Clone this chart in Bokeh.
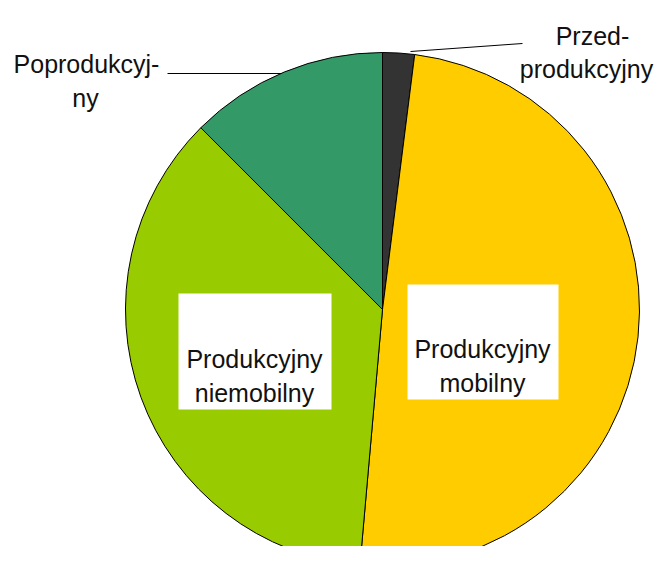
import math
from bokeh.plotting import figure
from bokeh.models import Range1d, ColumnDataSource
from bokeh.core.properties import value
from bokeh.embed import file_html
from bokeh.resources import INLINE

# ---- data ----
categories = ["Przedprodukcyjny", "Produkcyjny mobilny", "Produkcyjny niemobilny", "Poprodukcyjny"]
shares = [2.0, 49.4, 36.1, 12.5]
colors = ["#333333", "#FFCC00", "#99CC00", "#339966"]

# ---- layout (reference pixel coordinates) ----
W, H = 672, 562
CX, CY, R = 382, 309, 257
FONT = "Liberation Sans"
FS = "25px"

def Y(y):
    return H - y

p = figure(width=656, height=546, output_backend="svg", toolbar_location=None,
           x_range=Range1d(0, 656), y_range=Range1d(H - 546, H),
           min_border=0, outline_line_color=None, background_fill_color="white")
p.axis.visible = False
p.grid.visible = False

total = sum(shares)
starts, ends = [], []
cum = 0.0
for s in shares:
    starts.append(math.pi / 2 - 2 * math.pi * cum / total)
    cum += s
    ends.append(math.pi / 2 - 2 * math.pi * cum / total)

src = ColumnDataSource(dict(cat=categories, start=starts, end=ends, color=colors))
p.wedge(x=CX, y=Y(CY), radius=R, start_angle="start", end_angle="end",
        direction="clock", fill_color="color", line_color="black", line_width=1,
        source=src)

# white label boxes inside slices
p.quad(left=[178, 407], right=[331, 558], top=[Y(293), Y(284)], bottom=[Y(409), Y(399)],
       fill_color="white", line_color=None)

# leader lines
p.line(x=[167, 281], y=[Y(73), Y(73)], line_color="black", line_width=1)
p.line(x=[410, 522], y=[Y(51), Y(43)], line_color="black", line_width=1)

# texts
tx = [86, 85, 592, 586, 254, 254, 482, 482]
ty = [63, 97, 35, 68, 358, 392, 348, 382]
tt = ["Poprodukcyj-", "ny", "Przed-", "produkcyjny",
      "Produkcyjny", "niemobilny", "Produkcyjny", "mobilny"]
p.text(x=tx, y=[Y(v) for v in ty], text=tt, text_font=value(FONT), text_font_size=FS,
       text_color="#111111", text_align="center", text_baseline="alphabetic")

open("out.html", "w").write(file_html(p, INLINE))
